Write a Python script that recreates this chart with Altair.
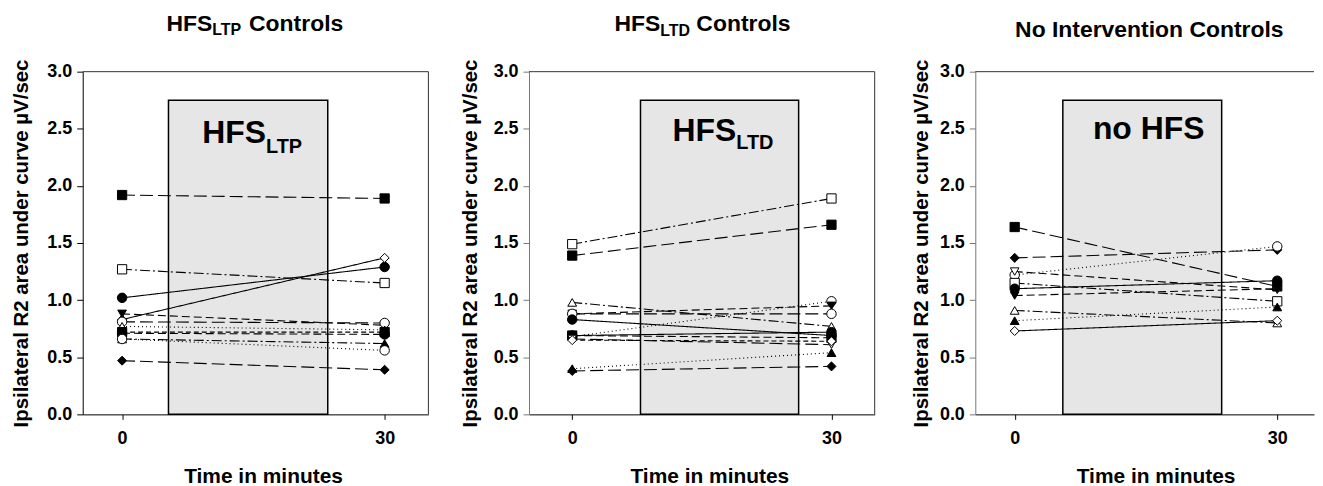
import altair as alt
import pandas as pd

FONT = "Liberation Sans"
TIMES = [0, 30]

# ---------------- Panel 1 : HFS_LTP controls ----------------
P1_T0 = [1.92, 1.27, 1.02, 0.83, 0.88, 0.81, 0.77, 0.72, 0.71, 0.66, 0.66, 0.47]
P1_T30 = [1.89, 1.15, 1.29, 1.37, 0.78, 0.80, 0.74, 0.72, 0.70, 0.62, 0.56, 0.39]
P1_SHAPE = ["square", "square", "circle", "diamond", "triangle-down", "circle",
            "triangle-up", "square", "circle", "triangle-up", "circle", "diamond"]
P1_FILL = ["filled", "open", "filled", "open", "filled", "open",
           "open", "filled", "filled", "filled", "open", "filled"]
P1_DASH = ["long", "dashdot", "solid", "solid", "medium", "long",
           "dotted", "short", "medium", "dashdot", "dotted", "long"]

# ---------------- Panel 2 : HFS_LTD controls ----------------
P2_T0 = [1.49, 1.39, 0.98, 0.68, 0.88, 0.88, 0.83, 0.69, 0.69, 0.66, 0.65, 0.40, 0.38]
P2_T30 = [1.89, 1.66, 0.77, 0.99, 0.95, 0.88, 0.69, 0.72, 0.67, 0.61, 0.64, 0.54, 0.42]
P2_SHAPE = ["square", "square", "triangle-up", "circle", "triangle-down", "circle",
            "circle", "circle", "square", "triangle-down", "diamond", "triangle-up", "diamond"]
P2_FILL = ["open", "filled", "open", "open", "filled", "open",
           "filled", "filled", "filled", "open", "open", "filled", "filled"]
P2_DASH = ["dashdot", "long", "dashdot", "dotted", "medium", "long",
           "solid", "solid", "medium", "long", "short", "dotted", "long"]

# ---------------- Panel 3 : No intervention controls ----------------
P3_T0 = [1.64, 1.37, 1.22, 1.25, 1.15, 1.10, 1.04, 0.91, 0.82, 0.73]
P3_T30 = [1.12, 1.44, 1.47, 1.09, 0.99, 1.17, 1.10, 0.80, 0.94, 0.82]
P3_SHAPE = ["square", "diamond", "circle", "triangle-down", "square", "circle",
            "triangle-down", "triangle-up", "triangle-up", "diamond"]
P3_FILL = ["filled", "filled", "open", "open", "open", "filled",
           "filled", "open", "filled", "open"]
P3_DASH = ["long", "long", "dotted", "medium", "dashdot", "solid",
           "medium", "dashdot", "dotted", "solid"]

# shaded HFS period (x from, x to, top)
P1_BOX = [5.3, 23.5, 2.75]
P2_BOX = [7.9, 26.2, 2.75]
P3_BOX = [5.5, 23.65, 2.75]

P1_XDOM = [-4.5, 35]
P2_XDOM = [-5, 35]
P3_XDOM = [-4.5, 34.2]

Y_TICKS = [0.0, 0.5, 1.0, 1.5, 2.0, 2.5, 3.0]
X_TICKS = [0, 30]

Y_TITLES = ["Ipsilateral  R2 area under curve \u00b5V/sec",
            "Ipsilateral R2 area under curve \u00b5V/sec",
            "Ipsilateral R2 area under curve \u00b5V/sec"]
X_TITLE = "Time in minutes"

DASH_NAMES = ["solid", "long", "medium", "short", "dotted", "dashdot"]
DASH_RANGE = [[1, 0], [13, 5], [8, 4], [5, 3], [1, 3], [10, 3, 2, 3]]
SHAPES = ["circle", "square", "diamond", "triangle-up", "triangle-down"]
SIZES = [90, 75, 165, 100, 100]

W, W3, H = 347, 340, 344
FRAME = "#333333"


def make_df(t0, t30, shapes, fills, dashes):
    rows = []
    for i in range(len(t0)):
        for t, v in zip(TIMES, [t0[i], t30[i]]):
            rows.append({"id": i, "t": t, "v": v, "shape": shapes[i],
                         "fill": fills[i], "dash": dashes[i]})
    return pd.DataFrame(rows)


DUMMY = pd.DataFrame({"a": [0]})


def text_layer(txt, x, y, size, weight="bold", align="left"):
    return alt.Chart(DUMMY).mark_text(
        text=txt, align=align, baseline="alphabetic", font=FONT,
        fontSize=size, fontWeight=weight, color="black"
    ).encode(x=alt.value(x), y=alt.value(y))


def frame_layers(width, right=True):
    top = alt.Chart(DUMMY).mark_rule(color=FRAME, strokeWidth=1).encode(
        x=alt.value(0), x2=alt.value(width), y=alt.value(0))
    out = [top]
    if right:
        out.append(alt.Chart(DUMMY).mark_rule(color=FRAME, strokeWidth=1).encode(
            x=alt.value(width), y=alt.value(0), y2=alt.value(H)))
    return out


def panel(df, box, xdom, width, ytitle, ytitle_x, axis_col, texts, right=True):
    xscale = alt.Scale(domain=xdom, nice=False, zero=False)
    yscale = alt.Scale(domain=[0, 3], nice=False, zero=True)
    xaxis = alt.Axis(values=X_TICKS, title=X_TITLE, tickSize=5, labelPadding=10,
                     titleX=181, titleY=68, titleBaseline="alphabetic",
                     titleAlign="center", grid=False, domainColor="black",
                     tickColor="black")
    yaxis = alt.Axis(values=Y_TICKS, format=".1f", title=ytitle, tickSize=6,
                     labelPadding=5, titleX=ytitle_x, titleY=H / 2,
                     titleAngle=270, titleBaseline="bottom", titleAlign="center",
                     grid=False, domainColor=axis_col, tickColor=axis_col)

    boxdf = pd.DataFrame({"x": [box[0]], "x2": [box[1]], "y": [0.0], "y2": [box[2]]})
    rect = alt.Chart(boxdf).mark_rect(fill="#e6e6e6", stroke="black", strokeWidth=1.5).encode(
        x=alt.X("x:Q", scale=xscale, axis=xaxis),
        x2="x2:Q",
        y=alt.Y("y:Q", scale=yscale, axis=yaxis),
        y2="y2:Q",
    )
    lines = alt.Chart(df).mark_line(color="black", strokeWidth=1.1).encode(
        x=alt.X("t:Q", scale=xscale, axis=xaxis),
        y=alt.Y("v:Q", scale=yscale, axis=yaxis),
        detail="id:N",
        strokeDash=alt.StrokeDash("dash:N", scale=alt.Scale(domain=DASH_NAMES, range=DASH_RANGE),
                                  legend=None),
    )
    pts = alt.Chart(df).mark_point(filled=True, stroke="black", strokeWidth=1, opacity=1).encode(
        x=alt.X("t:Q", scale=xscale, axis=xaxis),
        y=alt.Y("v:Q", scale=yscale, axis=yaxis),
        shape=alt.Shape("shape:N", scale=alt.Scale(domain=SHAPES, range=SHAPES), legend=None),
        size=alt.Size("shape:N", scale=alt.Scale(domain=SHAPES, range=SIZES), legend=None),
        fill=alt.Fill("fill:N", scale=alt.Scale(domain=["filled", "open"], range=["black", "white"]),
                      legend=None),
    )
    layers = [rect, lines, pts] + texts + frame_layers(width, right)
    return alt.layer(*layers).properties(width=width, height=H)


df1 = make_df(P1_T0, P1_T30, P1_SHAPE, P1_FILL, P1_DASH)
df2 = make_df(P2_T0, P2_T30, P2_SHAPE, P2_FILL, P2_DASH)
df3 = make_df(P3_T0, P3_T30, P3_SHAPE, P3_FILL, P3_DASH)

t1 = [
    text_layer("HFS", 130, -41, 23, align="right"),
    text_layer("LTP", 130, -37, 16),
    text_layer("Controls", 167, -41, 23),
    text_layer("HFS", 184, 72, 32, align="right"),
    text_layer("LTP", 184, 82, 20),
]
t2 = [
    text_layer("HFS", 131.7, -41, 23, align="right"),
    text_layer("LTD", 131.7, -36, 16),
    text_layer("Controls", 168, -41, 23),
    text_layer("HFS", 208, 69.5, 32, align="right"),
    text_layer("LTD", 208, 78, 20),
]
t3 = [
    text_layer("No Intervention Controls", 174.7, -35, 23, align="center"),
    text_layer("no HFS", 174, 68, 32, align="center"),
]

p1 = panel(df1, P1_BOX, P1_XDOM, W, Y_TITLES[0], -51, "black", t1)
p2 = panel(df2, P2_BOX, P2_XDOM, W, Y_TITLES[1], -49, "#777777", t2)
p3 = panel(df3, P3_BOX, P3_XDOM, W3, Y_TITLES[2], -44, "#777777", t3, right=False)

chart = alt.hconcat(p1, p2, p3, spacing=101, bounds="flush").properties(
    padding={"left": 3, "top": 4, "right": 0, "bottom": 0}
).configure_view(stroke="transparent", strokeWidth=0).configure_axis(
    labelFont=FONT, labelFontSize=18, labelFontWeight="bold", labelColor="black",
    titleFont=FONT, titleFontSize=20.5, titleFontWeight="bold", titleColor="black",
    domainWidth=1, tickWidth=1,
).configure_axisX(titleFontSize=21)

chart.save("out.html", embed_options={"renderer": "svg", "actions": False})
